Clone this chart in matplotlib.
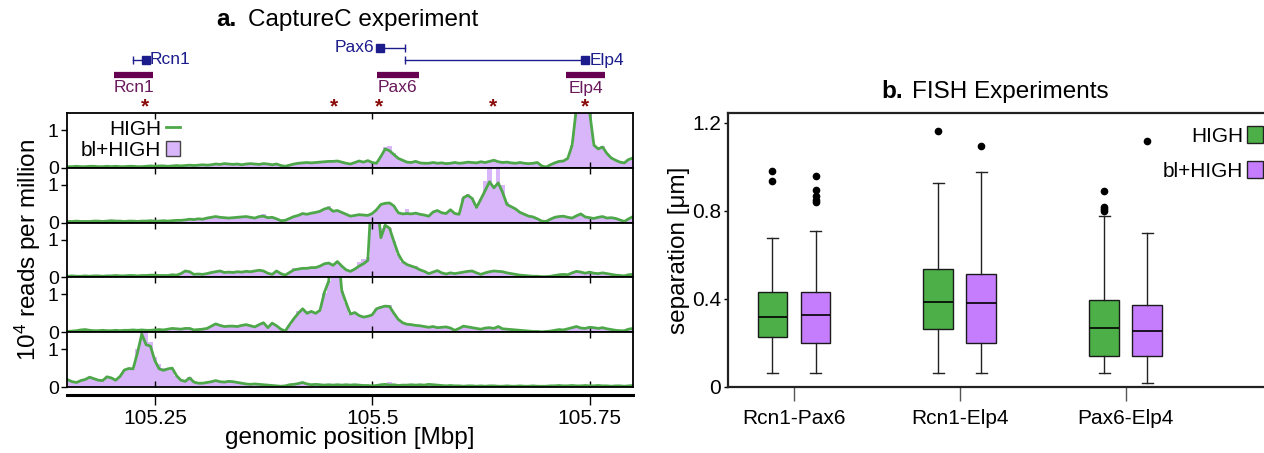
import numpy as np
import matplotlib
matplotlib.use('Agg')
import matplotlib.pyplot as plt
from matplotlib.lines import Line2D
from matplotlib.patches import Patch

plt.rcParams['font.family'] = ['Liberation Sans', 'DejaVu Sans']
plt.rcParams['mathtext.fontset'] = 'custom'
plt.rcParams['mathtext.rm'] = 'Liberation Sans'
plt.rcParams['mathtext.default'] = 'regular'

# ---------------- data: panel a (CaptureC tracks) ----------------
bin_start = 105.150   # Mbp, first bin centre
bin_size = 0.005      # Mbp

row1_high = [0.03,0.03,0.04,0.03,0.03,0.04,0.04,0.03,0.03,0.04,0.03,
             0.04,0.03,0.03,0.04,0.04,0.03,0.03,0.04,0.05,0.04,
             0.05,0.05,0.04,0.05,0.06,0.05,0.06,0.07,0.06,0.07,
             0.08,0.07,0.08,0.10,0.09,0.11,0.10,0.09,0.10,0.08,
             0.10,0.11,0.10,0.09,0.11,0.10,0.08,0.10,0.06,0.04,
             0.07,0.10,0.12,0.13,0.14,0.13,0.14,0.15,0.16,0.17,
             0.17,0.18,0.15,0.12,0.10,0.14,0.18,0.15,0.19,0.14,
             0.12,0.30,0.50,0.45,0.35,0.25,0.20,0.15,0.14,0.17,
             0.13,0.12,0.12,0.14,0.12,0.13,0.11,0.12,0.14,0.12,
             0.13,0.15,0.14,0.13,0.16,0.14,0.17,0.20,0.16,0.14,
             0.15,0.13,0.12,0.14,0.12,0.11,0.12,0.14,0.05,0.02,
             0.08,0.13,0.17,0.18,0.25,0.60,1.60,3.00,2.50,1.50,
             0.60,0.50,0.55,0.38,0.26,0.20,0.15,0.13,0.22,0.26]
row1_bl = [0.03,0.03,0.04,0.03,0.03,0.04,0.04,0.03,0.03,0.04,0.03,
           0.04,0.03,0.03,0.04,0.04,0.03,0.03,0.04,0.05,0.04,
           0.05,0.05,0.04,0.05,0.06,0.05,0.06,0.07,0.06,0.07,
           0.08,0.07,0.08,0.10,0.09,0.11,0.10,0.09,0.10,0.08,
           0.10,0.11,0.10,0.09,0.11,0.10,0.08,0.10,0.06,0.04,
           0.07,0.10,0.12,0.13,0.14,0.13,0.14,0.15,0.16,0.19,
           0.19,0.18,0.15,0.12,0.10,0.14,0.18,0.15,0.19,0.14,
           0.12,0.30,0.55,0.58,0.38,0.25,0.20,0.15,0.14,0.17,
           0.13,0.12,0.12,0.14,0.12,0.13,0.11,0.12,0.14,0.12,
           0.13,0.15,0.14,0.13,0.16,0.14,0.17,0.20,0.16,0.14,
           0.15,0.13,0.12,0.14,0.12,0.11,0.12,0.14,0.05,0.02,
           0.08,0.13,0.17,0.18,0.25,0.60,1.60,3.00,2.50,1.50,
           0.60,0.55,0.58,0.38,0.26,0.20,0.15,0.13,0.22,0.26]

row2_high = [0.03,0.03,0.04,0.03,0.03,0.03,0.04,0.04,0.03,0.04,0.05,
             0.04,0.04,0.03,0.04,0.04,0.03,0.04,0.04,0.05,0.04,
             0.04,0.05,0.04,0.05,0.06,0.06,0.07,0.09,0.08,0.10,
             0.09,0.12,0.14,0.16,0.14,0.13,0.12,0.13,0.14,0.15,
             0.16,0.14,0.12,0.16,0.17,0.13,0.14,0.10,0.05,0.06,
             0.11,0.16,0.19,0.24,0.22,0.25,0.27,0.30,0.36,0.39,
             0.30,0.32,0.27,0.22,0.17,0.19,0.21,0.20,0.19,0.24,
             0.34,0.48,0.51,0.52,0.44,0.26,0.23,0.24,0.23,0.25,
             0.22,0.20,0.17,0.28,0.32,0.26,0.24,0.34,0.24,0.22,
             0.66,0.72,0.64,0.40,0.62,0.85,1.08,0.92,1.05,0.80,
             0.48,0.42,0.36,0.27,0.22,0.17,0.15,0.10,0.04,0.03,
             0.09,0.14,0.16,0.17,0.14,0.12,0.18,0.23,0.15,0.13,
             0.11,0.14,0.16,0.12,0.13,0.11,0.07,0.03,0.10,0.16]
row2_bl = [0.03,0.03,0.04,0.03,0.03,0.03,0.04,0.04,0.03,0.04,0.05,
           0.04,0.04,0.03,0.04,0.04,0.03,0.04,0.04,0.05,0.04,
           0.04,0.05,0.04,0.05,0.06,0.06,0.07,0.09,0.08,0.10,
           0.09,0.12,0.14,0.16,0.14,0.13,0.12,0.13,0.14,0.15,
           0.16,0.14,0.12,0.16,0.22,0.13,0.14,0.10,0.05,0.06,
           0.11,0.16,0.19,0.24,0.22,0.25,0.27,0.30,0.36,0.44,
           0.30,0.32,0.27,0.22,0.17,0.19,0.21,0.20,0.19,0.24,
           0.34,0.48,0.51,0.52,0.44,0.26,0.23,0.36,0.23,0.25,
           0.22,0.20,0.17,0.28,0.32,0.26,0.24,0.34,0.24,0.22,
           0.66,0.76,0.64,0.40,0.62,1.10,1.45,1.00,1.60,1.00,
           0.55,0.42,0.36,0.27,0.22,0.17,0.15,0.10,0.04,0.03,
           0.09,0.14,0.16,0.17,0.14,0.12,0.18,0.23,0.15,0.13,
           0.11,0.14,0.16,0.12,0.13,0.11,0.07,0.03,0.10,0.16]

row3_high = [0.03,0.04,0.03,0.03,0.04,0.03,0.04,0.04,0.03,0.04,0.04,
             0.05,0.04,0.04,0.05,0.05,0.04,0.05,0.05,0.06,0.06,
             0.05,0.05,0.05,0.07,0.06,0.10,0.17,0.15,0.08,0.09,
             0.08,0.10,0.13,0.15,0.17,0.13,0.14,0.13,0.15,0.14,
             0.16,0.15,0.17,0.19,0.17,0.11,0.08,0.17,0.10,0.06,
             0.13,0.20,0.22,0.24,0.24,0.26,0.26,0.30,0.36,0.38,
             0.32,0.42,0.30,0.20,0.16,0.22,0.30,0.36,0.45,2.50,
             2.20,1.05,1.38,1.30,0.95,0.62,0.42,0.34,0.30,0.26,
             0.20,0.16,0.10,0.14,0.18,0.12,0.09,0.12,0.10,0.12,
             0.14,0.16,0.17,0.12,0.08,0.12,0.15,0.17,0.16,0.15,
             0.12,0.10,0.08,0.06,0.05,0.04,0.03,0.03,0.02,0.02,
             0.03,0.05,0.07,0.08,0.07,0.12,0.16,0.14,0.11,0.14,
             0.11,0.10,0.12,0.10,0.08,0.06,0.05,0.04,0.07,0.08]
row3_bl = [0.03,0.04,0.03,0.03,0.04,0.03,0.04,0.04,0.03,0.04,0.04,
           0.05,0.04,0.04,0.05,0.05,0.04,0.05,0.05,0.06,0.06,
           0.05,0.05,0.05,0.07,0.06,0.10,0.17,0.15,0.08,0.09,
           0.08,0.10,0.13,0.15,0.17,0.13,0.14,0.13,0.15,0.14,
           0.16,0.15,0.17,0.19,0.17,0.11,0.08,0.17,0.10,0.06,
           0.13,0.26,0.25,0.24,0.24,0.26,0.26,0.30,0.36,0.38,
           0.36,0.42,0.30,0.20,0.16,0.22,0.42,0.49,0.55,2.50,
           2.20,1.30,1.38,1.30,0.95,0.62,0.42,0.34,0.30,0.30,
           0.20,0.16,0.10,0.14,0.18,0.12,0.09,0.12,0.10,0.12,
           0.14,0.20,0.17,0.12,0.08,0.12,0.15,0.17,0.16,0.15,
           0.12,0.10,0.08,0.06,0.05,0.04,0.03,0.03,0.02,0.02,
           0.03,0.05,0.07,0.08,0.07,0.12,0.16,0.14,0.11,0.14,
           0.11,0.10,0.12,0.10,0.08,0.06,0.05,0.04,0.07,0.08]

row4_high = [0.02,0.03,0.04,0.06,0.07,0.05,0.04,0.04,0.05,0.04,0.04,
             0.05,0.04,0.05,0.05,0.06,0.05,0.06,0.05,0.05,0.06,
             0.07,0.06,0.08,0.10,0.09,0.08,0.10,0.10,0.06,0.07,
             0.08,0.10,0.16,0.22,0.18,0.15,0.16,0.16,0.15,0.18,
             0.20,0.17,0.14,0.20,0.25,0.12,0.24,0.17,0.08,0.03,
             0.20,0.36,0.50,0.62,0.50,0.55,0.50,0.58,1.05,1.35,
             2.60,2.40,1.10,0.78,0.48,0.52,0.44,0.40,0.42,0.46,
             0.62,0.66,0.69,0.68,0.50,0.34,0.25,0.21,0.20,0.18,
             0.17,0.15,0.13,0.15,0.12,0.13,0.14,0.11,0.05,0.10,
             0.16,0.14,0.12,0.10,0.08,0.11,0.12,0.10,0.15,0.09,
             0.08,0.07,0.06,0.05,0.04,0.03,0.02,0.02,0.01,0.02,
             0.03,0.05,0.07,0.06,0.09,0.12,0.15,0.11,0.10,0.13,
             0.12,0.10,0.12,0.09,0.07,0.05,0.04,0.04,0.08,0.10]
row4_bl = [0.02,0.03,0.04,0.06,0.07,0.05,0.04,0.04,0.05,0.04,0.04,
           0.05,0.04,0.05,0.05,0.06,0.05,0.08,0.05,0.05,0.06,
           0.07,0.06,0.08,0.10,0.09,0.08,0.10,0.10,0.06,0.07,
           0.08,0.10,0.16,0.22,0.18,0.15,0.16,0.16,0.15,0.18,
           0.20,0.17,0.14,0.20,0.25,0.12,0.24,0.17,0.08,0.03,
           0.20,0.36,0.55,0.62,0.56,0.55,0.50,0.58,1.05,1.35,
           2.60,2.40,1.10,0.78,0.48,0.54,0.44,0.40,0.42,0.46,
           0.62,0.70,0.72,0.72,0.50,0.34,0.25,0.21,0.20,0.18,
           0.17,0.15,0.13,0.15,0.12,0.13,0.14,0.11,0.05,0.10,
           0.16,0.14,0.12,0.10,0.08,0.11,0.12,0.10,0.15,0.09,
           0.08,0.07,0.06,0.05,0.04,0.03,0.02,0.02,0.01,0.02,
           0.03,0.05,0.07,0.06,0.09,0.12,0.15,0.11,0.10,0.13,
           0.12,0.10,0.12,0.09,0.07,0.05,0.04,0.04,0.08,0.10]

row5_high = [0.19,0.14,0.12,0.17,0.20,0.26,0.22,0.18,0.17,0.27,0.24,
             0.18,0.28,0.45,0.49,0.48,0.90,1.40,1.12,1.08,0.70,
             0.48,0.44,0.48,0.50,0.30,0.18,0.15,0.24,0.13,0.10,
             0.10,0.12,0.14,0.17,0.14,0.13,0.15,0.14,0.12,0.10,
             0.08,0.07,0.08,0.07,0.06,0.05,0.04,0.03,0.02,0.03,
             0.06,0.07,0.09,0.12,0.08,0.06,0.07,0.06,0.05,0.06,
             0.05,0.06,0.05,0.06,0.05,0.06,0.05,0.04,0.04,0.03,
             0.04,0.06,0.07,0.05,0.06,0.04,0.05,0.05,0.06,0.05,
             0.06,0.05,0.07,0.06,0.05,0.04,0.03,0.04,0.03,0.03,
             0.02,0.03,0.03,0.02,0.03,0.02,0.03,0.03,0.02,0.02,
             0.03,0.02,0.02,0.03,0.02,0.02,0.03,0.02,0.02,0.02,
             0.03,0.03,0.04,0.03,0.03,0.04,0.03,0.03,0.04,0.03,
             0.03,0.04,0.03,0.03,0.02,0.03,0.03,0.02,0.03,0.04]
row5_bl = [0.19,0.14,0.12,0.17,0.20,0.26,0.22,0.18,0.17,0.28,0.24,
           0.18,0.28,0.45,0.49,0.48,1.00,1.60,1.50,1.20,0.80,
           0.60,0.50,0.48,0.50,0.30,0.18,0.15,0.26,0.13,0.10,
           0.10,0.12,0.14,0.17,0.14,0.13,0.15,0.14,0.12,0.10,
           0.08,0.07,0.08,0.07,0.06,0.05,0.04,0.03,0.02,0.03,
           0.06,0.07,0.09,0.12,0.08,0.06,0.07,0.06,0.05,0.06,
           0.05,0.06,0.05,0.06,0.05,0.06,0.05,0.04,0.04,0.03,
           0.04,0.06,0.07,0.14,0.06,0.04,0.05,0.05,0.06,0.05,
           0.06,0.05,0.07,0.06,0.05,0.04,0.03,0.04,0.03,0.03,
           0.02,0.03,0.03,0.02,0.03,0.02,0.03,0.03,0.02,0.02,
           0.03,0.02,0.02,0.03,0.02,0.02,0.03,0.02,0.02,0.02,
           0.03,0.03,0.04,0.03,0.03,0.04,0.03,0.03,0.04,0.03,
           0.03,0.04,0.03,0.03,0.02,0.03,0.03,0.02,0.03,0.04]

tracks_high = [row1_high, row2_high, row3_high, row4_high, row5_high]
tracks_bl = [row1_bl, row2_bl, row3_bl, row4_bl, row5_bl]

x_ticks = [105.25, 105.5, 105.75]
x_ticklabels = ['105.25', '105.5', '105.75']
x_range = (105.149, 105.800)

# gene annotation
gene_names = ['Rcn1', 'Pax6', 'Elp4']
gene_tss = [105.2394, 105.5094, 105.7447]
gene_other_end = [105.2249, 105.5380, 105.5380]
probe_start = [105.2035, 105.5050, 105.7233]
probe_end = [105.2479, 105.5540, 105.7680]
star_pos = [105.2385, 105.4559, 105.5080, 105.6394, 105.7447]

# ---------------- data: panel b (FISH) ----------------
pairs = ['Rcn1-Pax6', 'Rcn1-Elp4', 'Pax6-Elp4']
high_q1 = [0.229, 0.262, 0.139]
high_med = [0.320, 0.388, 0.267]
high_q3 = [0.430, 0.538, 0.395]
high_lo = [0.062, 0.062, 0.062]
high_hi = [0.679, 0.926, 0.776]
high_fliers = [[0.983, 0.936], [1.165], [0.892, 0.820, 0.808, 0.800]]
bl_q1 = [0.201, 0.201, 0.139]
bl_med = [0.326, 0.380, 0.255]
bl_q3 = [0.433, 0.515, 0.371]
bl_lo = [0.062, 0.062, 0.017]
bl_hi = [0.710, 0.979, 0.698]
bl_fliers = [[0.959, 0.895, 0.868, 0.850, 0.842], [1.095], [1.117]]

# ---------------- style ----------------
GREEN_LINE = '#4ea84a'
LAVENDER = '#d9b5fa'
GREEN_BOX = '#4caf47'
PURPLE_BOX = '#c57dfe'
NAVY = '#1c1c8c'
PLUM = '#660050'
STAR = '#8b0a0a'

W, H = 1264, 453
fig = plt.figure(figsize=(W / 100, H / 100), dpi=100)


def fx(px):
    return px / W


def fh(px):
    return px / H


def fy(py):
    return 1 - py / H


L, R = 67, 633
top0 = 113
row_h = 54.8
positions = bin_start + bin_size * np.arange(len(row1_high))

for k in range(5):
    bottom_px = top0 + row_h * (k + 1)
    ax = fig.add_axes([fx(L), fy(bottom_px), fx(R - L), fh(row_h)])
    ax.fill_between(positions, 0, tracks_bl[k], step='mid', color=LAVENDER, lw=0)
    ax.plot(positions, tracks_high[k], color=GREEN_LINE, lw=2.0, solid_joinstyle='round')
    ax.set_xlim(*x_range)
    ax.set_ylim(0, 1.45)
    ax.set_yticks([0, 1])
    ax.set_yticklabels(['0', '1'], fontsize=14)
    ax.set_xticks(x_ticks)
    ax.set_xticklabels([])
    ax.tick_params(axis='x', direction='in', top=True, bottom=True, length=4, width=1)
    ax.tick_params(axis='y', direction='out', length=4, width=1, pad=2)
    for s in ax.spines.values():
        s.set_linewidth(1.3)
    if k == 0:
        handles = [Line2D([], [], color=GREEN_LINE, lw=2.0),
                   Patch(facecolor=LAVENDER, edgecolor='#444444', lw=1)]
        ax.legend(handles, ['HIGH', 'bl+HIGH'], loc='upper left',
                  bbox_to_anchor=(0.024, 0.88), markerfirst=False, frameon=False,
                  fontsize=15, handlelength=0.65, handleheight=0.7,
                  handletextpad=0.25, labelspacing=0.1, borderpad=0.0,
                  borderaxespad=0)

# separate x axis below
axx = fig.add_axes([fx(L), fy(395), fx(R - L), 0.0001])
axx.set_xlim(*x_range)
axx.set_xticks(x_ticks)
axx.set_xticklabels(x_ticklabels, fontsize=15)
axx.set_yticks([])
for s in ['left', 'right', 'top']:
    axx.spines[s].set_visible(False)
axx.spines['bottom'].set_linewidth(2.2)
axx.tick_params(axis='x', direction='out', length=7, width=1, pad=3)
axx.patch.set_visible(False)

fig.text(fx(28), fy(250), '10$^4$ reads per million', rotation=90,
         ha='center', va='center', fontsize=17.5)
fig.text(fx(350), fy(438), 'genomic position [Mbp]', ha='center', va='center', fontsize=17.5)

# annotation axes (y in pixel units)
axa = fig.add_axes([fx(L), fy(112), fx(R - L), fh(112 - 30)])
axa.set_xlim(*x_range)
axa.set_ylim(112, 30)
axa.axis('off')
y_gene = [60, 48, 60]
for name, tss, oe, yg in zip(gene_names, gene_tss, gene_other_end, y_gene):
    axa.plot([tss, oe], [yg, yg], color=NAVY, lw=1.0)
    axa.plot([oe], [yg], marker='|', color=NAVY, ms=6, mew=1.0)
    axa.plot([tss], [yg], marker='s', color=NAVY, ms=5.5, mec=NAVY)
    if tss > oe:
        axa.text(tss + 0.005, yg, name, color=NAVY, ha='left', va='center', fontsize=12.5)
    else:
        axa.text(tss - 0.007, yg, name, color=NAVY, ha='right', va='center', fontsize=12.5)
for name, ps, pe in zip(gene_names, probe_start, probe_end):
    axa.hlines(75, ps, pe, color=PLUM, lw=4.5, capstyle='butt')
    axa.text((ps + pe) / 2, 88, name, color='#6a1a5c', ha='center', va='center', fontsize=12.5)
for sp in star_pos:
    axa.text(sp, 107, '*', color=STAR, ha='center', va='center', fontsize=15, fontweight='bold')

# titles
fig.text(fx(216), fy(20), 'a.', fontweight='bold', ha='left', va='center', fontsize=17.5)
fig.text(fx(248), fy(20), 'CaptureC experiment', ha='left', va='center', fontsize=17.5)
fig.text(fx(881), fy(92), 'b.', fontweight='bold', ha='left', va='center', fontsize=17.5)
fig.text(fx(912), fy(92), 'FISH Experiments', ha='left', va='center', fontsize=17.5)

# ---------------- panel b ----------------
axb = fig.add_axes([fx(728), fy(387), fx(1266 - 728), fh(387 - 113)])
off = 0.13
bw = 0.18


def make_stats(q1, med, q3, lo, hi, fl):
    return [dict(q1=a, med=b, q3=c, whislo=d, whishi=e, fliers=f)
            for a, b, c, d, e, f in zip(q1, med, q3, lo, hi, fl)]


xs = np.arange(len(pairs))
common = dict(widths=bw, patch_artist=True, showfliers=True, capwidths=0.065,
              medianprops=dict(color='black', lw=1.2),
              whiskerprops=dict(color='#222222', lw=1.0),
              capprops=dict(color='#222222', lw=1.0),
              flierprops=dict(marker='o', markerfacecolor='black', markeredgecolor='black',
                              markersize=4.5))
axb.bxp(make_stats(high_q1, high_med, high_q3, high_lo, high_hi, high_fliers),
        positions=xs - off, boxprops=dict(facecolor=GREEN_BOX, edgecolor='#1a1a1a', lw=1.0),
        **common)
axb.bxp(make_stats(bl_q1, bl_med, bl_q3, bl_lo, bl_hi, bl_fliers),
        positions=xs + off, boxprops=dict(facecolor=PURPLE_BOX, edgecolor='#1a1a1a', lw=1.0),
        **common)
axb.set_xlim(-0.398, 2.846)
axb.set_ylim(0, 1.245)
axb.set_xticks(xs)
axb.set_xticklabels(pairs, fontsize=15)
axb.set_yticks([0, 0.4, 0.8, 1.2])
axb.set_yticklabels(['0', '0.4', '0.8', '1.2'], fontsize=15)
axb.tick_params(axis='x', direction='out', length=10, width=1, color='#555555', pad=6)
axb.tick_params(axis='y', direction='out', length=3, width=1, pad=2)
axb.spines['right'].set_visible(False)
for s in ['left', 'bottom', 'top']:
    axb.spines[s].set_linewidth(1.6)
    axb.spines[s].set_color('#222222')
fig.text(fx(679), fy(250), 'separation [μm]', rotation=90, ha='center', va='center', fontsize=17.5)

handles_b = [Patch(facecolor=GREEN_BOX, edgecolor='#222222', lw=1),
             Patch(facecolor=PURPLE_BOX, edgecolor='#222222', lw=1)]
fig.legend(handles_b, ['HIGH', 'bl+HIGH'], loc='upper right',
           bbox_to_anchor=(fx(1263), fy(126)), markerfirst=False, frameon=False,
           fontsize=15, handlelength=0.75, handleheight=0.85, handletextpad=0.2,
           labelspacing=0.75, borderpad=0, borderaxespad=0)

fig.savefig('out.png', dpi=100)
